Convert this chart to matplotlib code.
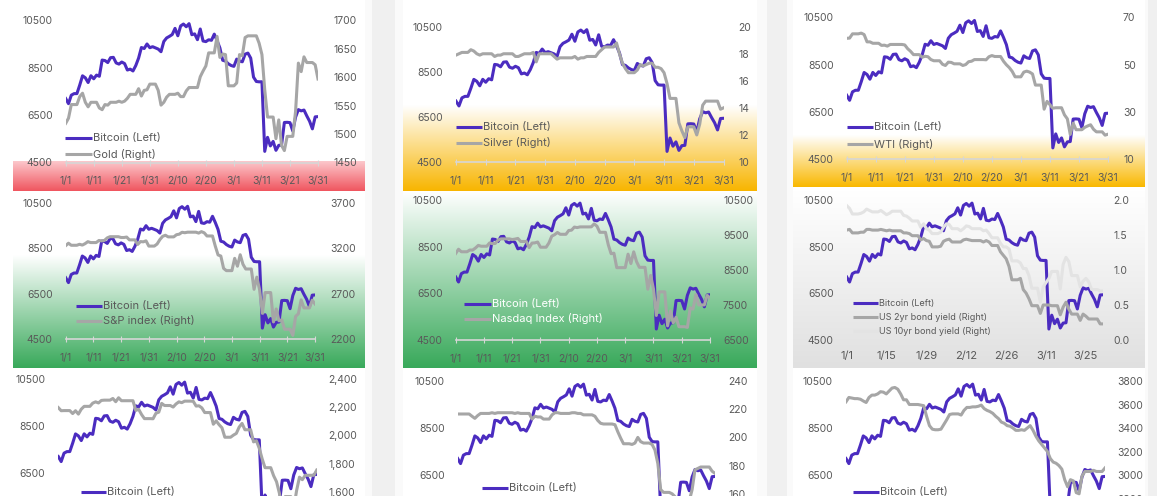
import numpy as np
import matplotlib.pyplot as plt
from matplotlib.lines import Line2D
from matplotlib.colors import LinearSegmentedColormap

W, H = 1157, 496
plt.rcParams['font.family'] = ['Inter', 'DejaVu Sans']

PURPLE = '#4B2CC0'
GRAY = '#A6A6A6'
LIGHT = '#E3E3E3'
TXT = '#595959'

# ---- data: daily values 1/1 .. 3/31 (2020) ----
days = np.arange(91)

bitcoin = [7200, 6985, 7345, 7410, 7411, 7769, 8163, 8079, 7879, 8166,
           8037, 8193, 8144, 8828, 8808, 8723, 8929, 8943, 8706, 8658,
           8745, 8681, 8407, 8445, 8368, 8597, 8910, 9358, 9316, 9508,
           9350, 9393, 9344, 9293, 9181, 9614, 9763, 9830, 9907, 10167,
           9855, 10269, 10351, 10237, 10367, 9900, 9935, 9690, 10141, 9633,
           9608, 9686, 9663, 9925, 9650, 9341, 8820, 8784, 8672, 8599,
           8562, 8869, 8787, 8755, 9078, 9123, 8909, 8108, 7923, 7909,
           7911, 4970, 5563, 5200, 5392, 5014, 5225, 5238, 6191, 6198,
           6185, 5830, 6416, 6734, 6681, 6716, 6469, 6243, 5922, 6429,
           6438]

gold = [1519, 1528, 1552, 1552, 1552, 1566, 1572, 1556, 1548, 1556,
        1556, 1556, 1546, 1543, 1552, 1551, 1556, 1556, 1556, 1558,
        1556, 1558, 1563, 1570, 1570, 1570, 1580, 1567, 1577, 1578,
        1588, 1588, 1588, 1577, 1551, 1556, 1565, 1570, 1570, 1570,
        1572, 1566, 1566, 1576, 1582, 1582, 1582, 1582, 1601, 1611,
        1620, 1643, 1643, 1643, 1672, 1635, 1641, 1640, 1585, 1585,
        1585, 1590, 1640, 1638, 1670, 1673, 1673, 1673, 1673, 1660,
        1640, 1578, 1530, 1530, 1530, 1492, 1525, 1480, 1471, 1496,
        1496, 1496, 1540, 1625, 1610, 1636, 1626, 1626, 1626, 1622,
        1597]

silver = [17.9, 18.0, 18.1, 18.1, 18.1, 18.3, 18.2, 18.0, 17.9, 18.0,
          18.0, 18.0, 18.0, 17.8, 17.9, 17.9, 18.0, 18.0, 18.0, 18.0,
          17.8, 17.8, 17.9, 18.0, 18.0, 18.0, 18.1, 17.4, 18.0, 18.0,
          18.0, 18.0, 18.0, 17.8, 17.6, 17.7, 17.7, 17.7, 17.7, 17.7,
          17.8, 17.6, 17.7, 17.7, 17.8, 17.8, 17.8, 17.8, 18.1, 18.3,
          18.5, 18.5, 18.5, 18.5, 18.8, 18.0, 17.3, 16.9, 16.6, 16.6,
          16.6, 16.8, 17.2, 17.1, 17.2, 17.3, 17.3, 17.0, 17.0, 16.9,
          16.6, 15.8, 14.7, 14.7, 14.7, 12.9, 12.3, 11.8, 12.6, 12.6,
          12.6, 12.0, 12.8, 14.2, 14.5, 14.5, 14.5, 14.5, 14.5, 13.9,
          14.0]

wti = [61.1, 61.2, 63.0, 63.0, 63.0, 63.3, 62.7, 59.6, 59.6, 59.0,
       59.0, 59.0, 58.1, 58.2, 57.8, 58.5, 58.5, 58.5, 58.5, 58.5,
       58.3, 56.7, 55.6, 54.2, 54.2, 54.2, 53.1, 53.5, 53.3, 52.1,
       51.6, 51.6, 51.6, 50.1, 49.6, 51.0, 50.9, 50.3, 50.3, 50.3,
       49.6, 50.0, 51.2, 51.4, 52.1, 52.1, 52.1, 52.1, 52.0, 53.3,
       53.8, 53.4, 53.4, 53.4, 51.4, 49.9, 48.7, 47.1, 44.8, 44.8,
       44.8, 46.8, 47.2, 46.8, 46.0, 41.3, 41.3, 41.3, 31.1, 34.4,
       33.0, 31.5, 31.7, 31.7, 31.7, 28.7, 27.0, 20.4, 25.2, 22.4,
       22.4, 22.4, 23.4, 24.0, 24.5, 22.6, 21.5, 21.5, 21.5, 20.1,
       20.5]

sp500 = [3231, 3258, 3235, 3235, 3235, 3246, 3237, 3253, 3275, 3265,
         3265, 3265, 3288, 3283, 3289, 3317, 3330, 3330, 3330, 3330,
         3321, 3321, 3326, 3295, 3295, 3295, 3244, 3276, 3273, 3284,
         3226, 3226, 3226, 3249, 3298, 3334, 3346, 3328, 3328, 3328,
         3352, 3358, 3379, 3374, 3380, 3380, 3380, 3380, 3370, 3386,
         3373, 3338, 3338, 3338, 3226, 3128, 3116, 2979, 2954, 2954,
         2954, 3090, 3003, 3130, 3024, 2972, 2972, 2972, 2747, 2882,
         2741, 2481, 2711, 2711, 2711, 2386, 2529, 2398, 2409, 2305,
         2305, 2305, 2237, 2447, 2476, 2630, 2541, 2541, 2541, 2627,
         2585]

nasdaq = [8973, 9093, 9021, 9021, 9021, 9071, 9069, 9129, 9203, 9179,
          9179, 9179, 9274, 9252, 9259, 9357, 9389, 9389, 9389, 9389,
          9370, 9383, 9402, 9315, 9315, 9315, 9139, 9269, 9275, 9299,
          9151, 9151, 9151, 9273, 9467, 9509, 9572, 9520, 9520, 9520,
          9628, 9638, 9726, 9712, 9731, 9731, 9731, 9731, 9733, 9817,
          9751, 9577, 9577, 9577, 9221, 8966, 8980, 8566, 8567, 8567,
          8567, 8952, 8685, 9019, 8739, 8576, 8576, 8576, 7950, 8344,
          7952, 7201, 7875, 7875, 7875, 6905, 7335, 6990, 7151, 6880,
          6880, 6880, 6861, 7418, 7385, 7798, 7502, 7502, 7502, 7774,
          7700]

us2y = [1.57, 1.58, 1.53, 1.53, 1.53, 1.54, 1.54, 1.58, 1.58, 1.57,
        1.57, 1.57, 1.58, 1.57, 1.56, 1.57, 1.56, 1.56, 1.56, 1.56,
        1.53, 1.53, 1.52, 1.49, 1.49, 1.49, 1.43, 1.45, 1.42, 1.41,
        1.33, 1.33, 1.33, 1.34, 1.41, 1.43, 1.44, 1.40, 1.40, 1.40,
        1.40, 1.43, 1.44, 1.43, 1.42, 1.42, 1.42, 1.42, 1.40, 1.42,
        1.40, 1.35, 1.35, 1.35, 1.26, 1.21, 1.16, 1.05, 0.86, 0.86,
        0.86, 0.88, 0.72, 0.67, 0.59, 0.49, 0.49, 0.49, 0.38, 0.50,
        0.50, 0.50, 0.49, 0.49, 0.49, 0.36, 0.47, 0.54, 0.44, 0.37,
        0.37, 0.37, 0.28, 0.37, 0.34, 0.30, 0.30, 0.30, 0.30, 0.23,
        0.23]

us10y = [1.92, 1.88, 1.80, 1.80, 1.80, 1.81, 1.83, 1.87, 1.85, 1.83,
         1.83, 1.83, 1.85, 1.82, 1.79, 1.81, 1.84, 1.84, 1.84, 1.84,
         1.78, 1.77, 1.74, 1.70, 1.70, 1.70, 1.61, 1.66, 1.59, 1.57,
         1.52, 1.52, 1.52, 1.54, 1.61, 1.66, 1.65, 1.59, 1.59, 1.59,
         1.56, 1.59, 1.63, 1.62, 1.59, 1.59, 1.59, 1.59, 1.56, 1.57,
         1.52, 1.46, 1.46, 1.46, 1.38, 1.33, 1.33, 1.30, 1.13, 1.13,
         1.13, 1.10, 1.02, 1.02, 0.92, 0.74, 0.74, 0.74, 0.54, 0.76,
         0.82, 0.88, 0.98, 0.98, 0.98, 0.73, 1.08, 1.18, 1.12, 0.92,
         0.92, 0.92, 0.76, 0.84, 0.88, 0.83, 0.72, 0.72, 0.72, 0.70,
         0.70]

kospi = [2197, 2175, 2176, 2176, 2176, 2155, 2175, 2151, 2186, 2206,
         2206, 2206, 2229, 2238, 2230, 2248, 2250, 2250, 2250, 2262,
         2239, 2267, 2246, 2246, 2246, 2246, 2246, 2177, 2185, 2148,
         2119, 2119, 2119, 2118, 2157, 2165, 2227, 2212, 2212, 2212,
         2201, 2223, 2238, 2232, 2243, 2243, 2243, 2242, 2208, 2210,
         2195, 2162, 2162, 2162, 2079, 2103, 2076, 2054, 1987, 1987,
         1987, 2002, 2014, 2059, 2085, 2040, 2040, 2040, 1954, 1962,
         1908, 1834, 1771, 1771, 1771, 1714, 1672, 1591, 1457, 1566,
         1566, 1566, 1482, 1609, 1704, 1686, 1717, 1717, 1717, 1717,
         1754]

row3_mid = [216.6, 216.6, 216.6, 216.6, 216.6, 215.0, 213.5, 215.5, 217.0, 217.0,
            217.0, 217.0, 217.5, 217.0, 217.5, 217.5, 217.5, 217.5, 217.5, 217.5,
            217.0, 217.5, 217.0, 217.0, 217.0, 217.0, 213.0, 215.0, 214.5, 214.5,
            213.0, 213.0, 213.0, 216.0, 217.5, 217.5, 217.0, 217.0, 217.0, 217.0,
            217.5, 217.5, 217.0, 217.0, 216.0, 216.0, 216.0, 216.0, 215.0, 212.0,
            210.0, 209.5, 209.5, 209.5, 209.5, 209.0, 204.0, 199.5, 195.5, 195.5,
            195.5, 195.0, 196.0, 200.0, 197.0, 196.0, 196.0, 196.0, 195.0, 191.0,
            181.5, 163.0, 161.0, 161.0, 161.0, 160.0, 158.0, 154.0, 150.0, 155.0,
            155.0, 155.0, 163.0, 177.0, 178.0, 179.0, 179.0, 179.0, 179.0, 176.0,
            174.5]

row3_right = [3623, 3660, 3655, 3650, 3650, 3645, 3630, 3617, 3660, 3680,
              3680, 3690, 3709, 3705, 3690, 3715, 3740, 3745, 3730, 3690,
              3640, 3640, 3600, 3600, 3600, 3600, 3595, 3590, 3500, 3420,
              3390, 3385, 3385, 3390, 3430, 3470, 3515, 3520, 3520, 3520,
              3510, 3550, 3575, 3575, 3580, 3580, 3585, 3595, 3565, 3550,
              3540, 3525, 3500, 3480, 3450, 3440, 3420, 3415, 3400, 3380,
              3380, 3385, 3380, 3400, 3420, 3380, 3330, 3290, 3260, 3230,
              3200, 3140, 3110, 3100, 3080, 3050, 2960, 2900, 2960, 2950,
              2850, 2840, 2990, 3030, 3030, 3030, 3040, 3030, 3030, 3030,
              3060]

tick_days = [0, 10, 20, 30, 40, 50, 60, 70, 80, 90]
tick_labels = ['1/1', '1/11', '1/21', '1/31', '2/10', '2/20', '3/1', '3/11', '3/21', '3/31']
yield_tick_days = [0, 14, 28, 42, 56, 70, 84]
yield_tick_labels = ['1/1', '1/15', '1/29', '2/12', '2/26', '3/11', '3/25']
left_ticks = [4500, 6500, 8500, 10500]

fig = plt.figure(figsize=(W / 100, H / 100), dpi=100)

# ---- card backgrounds (pixel space) ----
bg = fig.add_axes([0, 0, 1, 1], zorder=-10)


def grad(x0, x1, y0, y1, c_top, c_bot):
    cmap = LinearSegmentedColormap.from_list('g', [c_top, c_bot])
    bg.imshow(np.linspace(0, 1, 256).reshape(-1, 1), cmap=cmap, aspect='auto',
              extent=(x0, x1, y1, y0), interpolation='bilinear')


for gx0, gx1 in [(365, 403), (757, 793), (1145, 1157)]:
    bg.axvspan(gx0, gx1, color='#fafafa', lw=0)
for gx0, gx1 in [(372, 395), (767, 787), (1148, 1157)]:
    bg.axvspan(gx0, gx1, color='#f0f0f0', lw=0)

grad(13, 365, 161, 191, '#fcc8cc', '#f0555f')
grad(403, 757, 105, 191, '#ffffff', '#f8b500')
grad(793, 1145, 135, 187, '#ffffff', '#f9b800')
grad(13, 365, 255, 368, '#ffffff', '#38a95a')
grad(403, 757, 191, 368, '#ffffff', '#38a95a')
grad(793, 1145, 191, 368, '#ffffff', '#e0e0e0')
bg.set_xlim(0, W)
bg.set_ylim(H, 0)
bg.axis('off')


def panel(x0, x1, ytop, ybot, right, rlim, rticks, rlabels,
          xt=tick_days, xl=tick_labels, axis_line=True, xfs=7.5, rpad=14,
          lticks=left_ticks):
    ax = fig.add_axes([x0 / W, 1 - ybot / H, (x1 - x0) / W, (ybot - ytop) / H])
    ax.patch.set_alpha(0)
    ax.set_xlim(0, 90)
    ax.set_ylim(4500, 10500)
    ax.plot(days, bitcoin, color=PURPLE, lw=2.2, solid_joinstyle='round')
    for s in ax.spines.values():
        s.set_visible(False)
    if axis_line:
        ax.spines['bottom'].set_visible(True)
        ax.spines['bottom'].set_color('#d6d6d6')
        ax.spines['bottom'].set_linewidth(1.2)
    ax.set_yticks(lticks)
    ax.tick_params(axis='y', length=0, pad=9.5, labelsize=7.5, labelcolor=TXT)
    if xl:
        ax.set_xticks(xt)
        ax.set_xticklabels(xl)
        ax.tick_params(axis='x', length=4 if axis_line else 0, direction='inout',
                       color='#d6d6d6', labelsize=xfs, labelcolor=TXT, pad=8)
    else:
        ax.set_xticks([])
    ax2 = ax.twinx()
    for vals, col in right:
        ax2.plot(days, vals, color=col, lw=2.2, solid_joinstyle='round')
    ax2.set_ylim(*rlim)
    ax2.set_yticks(rticks)
    ax2.set_yticklabels(rlabels)
    ax2.tick_params(axis='y', length=0, pad=rpad * 0.72, labelsize=7.5, labelcolor=TXT)
    for s in ax2.spines.values():
        s.set_visible(False)
    return ax, ax2


def legend(entries, lx0, lx1, y0, dy, fs=8, tcolor=TXT):
    for i, (label, col) in enumerate(entries):
        y = 1 - (y0 + i * dy) / H
        fig.add_artist(Line2D([lx0 / W, lx1 / W], [y, y], color=col, lw=2.2,
                              solid_capstyle='butt'))
        fig.text((lx1 + 1) / W, y, label, fontsize=fs, color=tcolor,
                 va='center', ha='left')


# row 1
panel(65.7, 318, 20.5, 162.5, [(gold, GRAY)], (1450, 1700),
      range(1450, 1701, 50), [str(v) for v in range(1450, 1701, 50)], rpad=15)
legend([('Bitcoin (Left)', PURPLE), ('Gold (Right)', GRAY)], 65, 92, 138, 16)

panel(456, 723.5, 26.7, 162, [(silver, GRAY)], (10, 20),
      range(10, 21, 2), [str(v) for v in range(10, 21, 2)], rpad=14.5)
legend([('Bitcoin (Left)', PURPLE), ('Silver (Right)', GRAY)], 456, 482, 127, 16)

panel(846.7, 1108, 17.3, 159, [(wti, GRAY)], (10, 70),
      [10, 30, 50, 70], ['10', '30', '50', '70'], rpad=15)
legend([('Bitcoin (Left)', PURPLE), ('WTI (Right)', GRAY)], 847, 873, 127, 17)

# row 2
panel(65.7, 315, 203.3, 338.7, [(sp500, GRAY)], (2200, 3700),
      [2200, 2700, 3200, 3700], ['2200', '2700', '3200', '3700'], rpad=15)
legend([('Bitcoin (Left)', PURPLE), ('S&P index (Right)', GRAY)], 76, 102, 306, 15)

panel(455.7, 710, 200, 340, [(nasdaq, GRAY)], (6500, 10500),
      range(6500, 10501, 1000), [str(v) for v in range(6500, 10501, 1000)], rpad=13)
legend([('Bitcoin (Left)', PURPLE), ('Nasdaq Index (Right)', GRAY)], 464, 491, 304, 15,
       tcolor='white')

panel(846.7, 1103, 200, 340, [(us10y, LIGHT), (us2y, GRAY)], (0, 2),
      [0, 0.5, 1.0, 1.5, 2.0], ['0.0', '0.5', '1.0', '1.5', '2.0'],
      xt=yield_tick_days, xl=yield_tick_labels, axis_line=False, xfs=8, rpad=10)
legend([('Bitcoin (Left)', PURPLE), ('US 2yr bond yield (Right)', GRAY),
        ('US 10yr bond yield (Right)', LIGHT)], 853, 878, 303.3, 14, fs=6.5)

# row 3 (the frame cuts these cards off below 6500)
row3_left = [6500, 8500, 10500]
panel(58.3, 316.7, 379, 520, [(kospi, GRAY)], (1400, 2400),
      range(1600, 2401, 200), [f'{v:,}' for v in range(1600, 2401, 200)],
      xl=None, rpad=11.5, lticks=row3_left)
legend([('Bitcoin (Left)', PURPLE)], 81, 106, 491.7, 16)

panel(457.7, 715, 381, 522, [(row3_mid, GRAY)], (140, 240),
      range(160, 241, 20), [str(v) for v in range(160, 241, 20)],
      xl=None, rpad=13, lticks=row3_left)
legend([('Bitcoin (Left)', PURPLE)], 482, 508, 488, 16)

panel(846, 1105, 381, 522, [(row3_right, GRAY)], (2600, 3800),
      range(2800, 3801, 200), [str(v) for v in range(2800, 3801, 200)],
      xl=None, rpad=12, lticks=row3_left)
legend([('Bitcoin (Left)', PURPLE)], 853, 879, 491.7, 16)

fig.savefig('out.png', dpi=100)
